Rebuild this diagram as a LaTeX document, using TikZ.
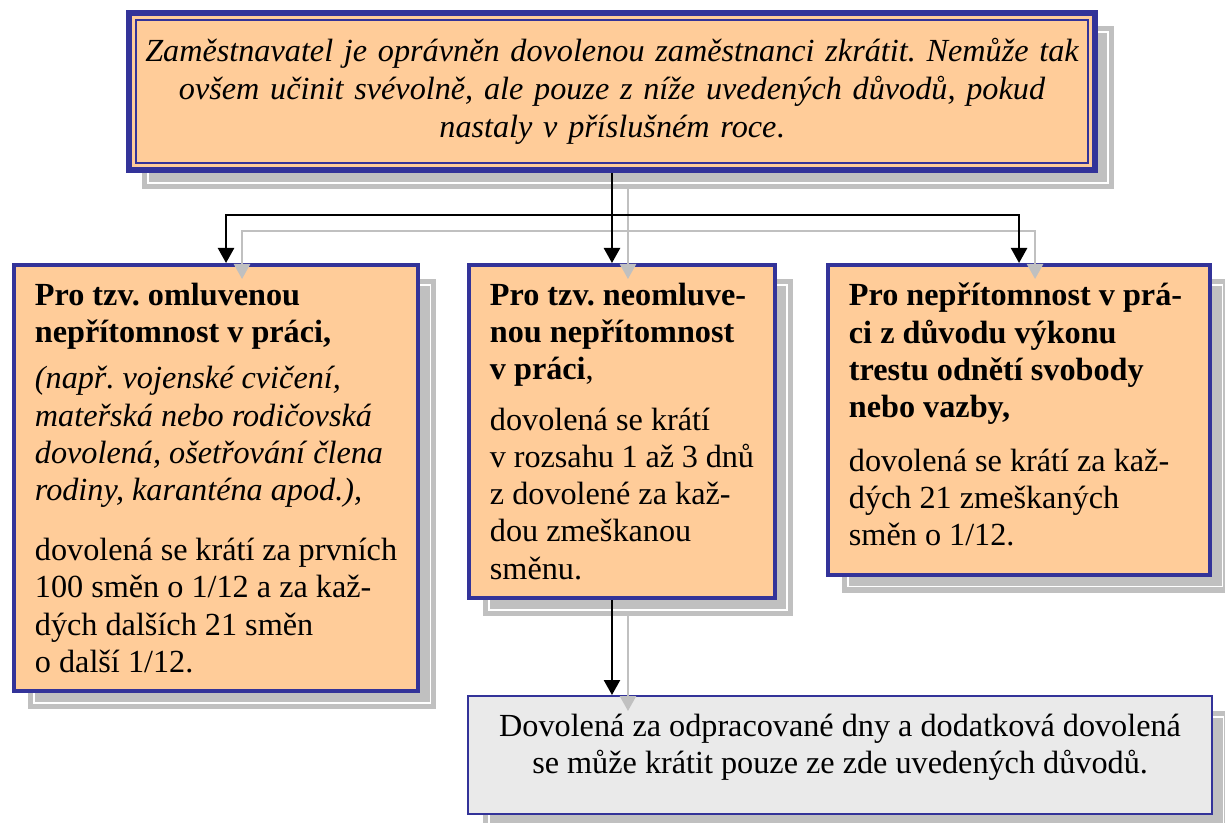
\documentclass[tikz,border=0pt]{standalone}
\usepackage{fontspec}
\setmainfont{Liberation Serif}
\usetikzlibrary{arrows.meta,backgrounds}
\definecolor{frameblue}{HTML}{333399}
\definecolor{peach}{HTML}{FFCC99}
\definecolor{notegray}{HTML}{EAEAEA}
\definecolor{shadowgray}{HTML}{C0C0C0}
\hyphenpenalty=10000
\exhyphenpenalty=10000
\frenchspacing

\begin{document}
\begin{tikzpicture}[x=0.36pt, y=-0.36pt,
	box/.style = {draw=frameblue, line width=1.5pt, fill=peach, inner xsep=7.5pt, inner ysep=6.5pt, anchor=north west, font=\fontsize{11.6}{13.4}\selectfont},
	conn/.style = {line width=0.75pt, -{Triangle[length=5.4pt, width=5.8pt]}}]
	\useasboundingbox (0,0) rectangle (1225,823);
	
	% top note with thick-thin frame
	\node[draw=frameblue, line width=2.3pt, fill=peach, anchor=north west, minimum width=347.6pt, minimum height=56.4pt, text width=344pt, align=center, inner sep=0pt, font=\fontsize{11.6}{13.7}\selectfont\itshape] (note) at (126,10)
		{Zaměstnavatel je oprávněn dovolenou zaměstnanci zkrátit. Nemůže tak\\ ovšem učinit svévolně, ale pouze z níže uvedených důvodů, pokud\\ nastaly v příslušném roce{\upshape .}\\[2.5pt]};
	\draw[frameblue, line width=0.5pt] ([shift={(10,10)}]note.north west) rectangle ([shift={(-10,-10)}]note.south east);
	
	% three reasons
	\node[box] (omluv) at (12,263) {\begin{minipage}[t][140.3pt][t]{130.4pt}\raggedright
		\textbf{Pro tzv. omluvenou}\\
		\textbf{nepřítomnost v práci,}\\[3.2pt]
		\textit{(např. vojenské cvičení,}\\
		\textit{mateřská nebo rodičovská}\\
		\textit{dovolená, ošetřování člena}\\
		\textit{rodiny, karanténa apod.),}\\[8.3pt]
		dovolená se krátí za prvních\\
		100 směn o 1/12 a za kaž-\\
		dých dalších 21 směn\\
		o další 1/12.\end{minipage}};
	\node[box] (neoml) at (467,263) {\begin{minipage}[t][106.8pt][t]{95.1pt}\raggedright
		\textbf{Pro tzv. neomluve-}\\
		\textbf{nou nepřítomnost}\\
		\textbf{v práci},\\[4.7pt]
		dovolená se krátí\\
		v rozsahu 1 až 3 dnů\\
		z dovolené za kaž-\\
		dou zmeškanou\\
		směnu.\end{minipage}};
	\node[box] (vykon) at (826,263) {\begin{minipage}[t][98.5pt][t]{122.5pt}\raggedright
		\textbf{Pro nepřítomnost v prá-}\\
		\textbf{ci z důvodu výkonu}\\
		\textbf{trestu odnětí svobody}\\
		\textbf{nebo vazby,}\\[6pt]
		dovolená se krátí za kaž-\\
		dých 21 zmeškaných\\
		směn o 1/12.\end{minipage}};
	
	% closing remark
	\node[box, fill=notegray, line width=0.8pt, inner xsep=5pt, inner ysep=6.5pt] (dodat) at (467,695) {\begin{minipage}[t][29.4pt][t]{257.8pt}\centering
		Dovolená za odpracované dny a dodatková dovolená\\
		se může krátit pouze ze zde uvedených důvodů.\end{minipage}};
	
	% shadows behind the boxes
	\begin{scope}[on background layer]
		\foreach \b in {note,omluv,neoml,vykon,dodat}{
			\fill[shadowgray] ([shift={(16,16)}]\b.north west) rectangle ([shift={(16,16)}]\b.south east);
			\draw[white, line width=0.4pt] ([shift={(22,22)}]\b.north west) rectangle ([shift={(10,10)}]\b.south east);
		}
	\end{scope}
	
	% connectors, grey shadow first
	\foreach \s/\c in {16/shadowgray, 0/black}{
		\coordinate (split) at ([shift={(\s,\s+42)}]note.south);
		\draw[conn, color=\c] ([shift={(\s,\s)}]note.south) -- ([shift={(\s,\s)}]note.south |- neoml.north);
		\draw[conn, color=\c] (split) -| ([shift={(\s+10,\s)}]omluv.north);
		\draw[conn, color=\c] (split) -| ([shift={(\s,\s)}]vykon.north);
		\draw[conn, color=\c] ([shift={(\s,\s)}]note.south |- neoml.south) -- ([shift={(\s,\s)}]note.south |- dodat.north);
	}
\end{tikzpicture}
\end{document}
